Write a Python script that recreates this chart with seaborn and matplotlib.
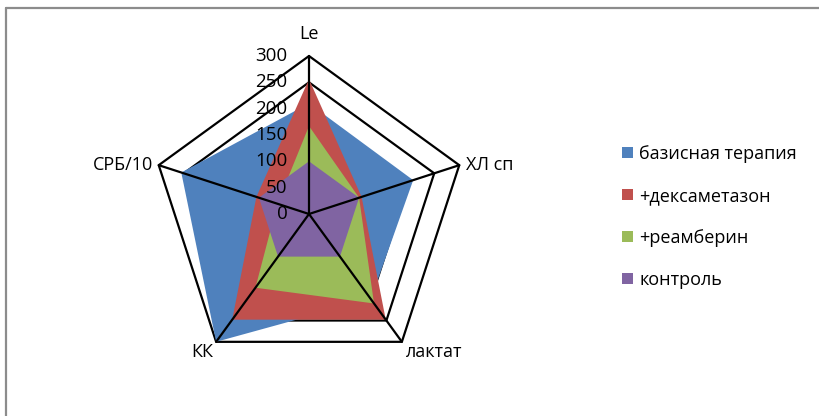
import numpy as np
import matplotlib
matplotlib.use("Agg")
import matplotlib.pyplot as plt
import matplotlib.transforms as mtransforms
from matplotlib.patches import Patch
import seaborn as sns

categories = ["Le", "ХЛ сп", "лактат", "КК", "СРБ/10"]
series_names = ["базисная терапия", "+дексаметазон", "+реамберин", "контроль"]
basic = [210, 208, 200, 300, 255]
dexa = [256, 105, 248, 248, 105]
ream = [167, 100, 210, 173, 63]
control = [100, 100, 100, 100, 100]
r_ticks = [0, 50, 100, 150, 200, 250, 300]

colors = ["#4F81BD", "#C0504D", "#9BBB59", "#8064A2"]

sns.set_style("white")
plt.rcParams["font.family"] = ["Open Sans", "DejaVu Sans"]
plt.rcParams["text.color"] = "black"

W, H = 820, 416
fig = plt.figure(figsize=(W / 100, H / 100), dpi=100)

cx, cy, R = 309, 214, 158
ax = fig.add_axes([(cx - R) / W, (H - cy - R) / H, 2 * R / W, 2 * R / H], projection="polar")
ax.set_theta_offset(np.pi / 2)
ax.set_theta_direction(-1)
ax.set_ylim(0, 300)
ax.grid(False)
ax.spines["polar"].set_visible(False)
ax.set_xticks([])
ax.set_yticks([])
ax.patch.set_alpha(0)

n = len(categories)
theta = np.arange(n) * 2 * np.pi / n
theta_c = np.append(theta, theta[0])

# gridline pentagons (beneath fills)
for rv in r_ticks[1:]:
    ax.plot(theta_c, [rv] * (n + 1), color="black", lw=1.6, zorder=1, clip_on=False)

df_series = [basic, dexa, ream, control]
for vals, col in zip(df_series, colors):
    v = np.append(vals, vals[0])
    ax.fill(theta_c, v, color=col, lw=0, zorder=2)

# spokes on top
for t in theta:
    ax.plot([t, t], [0, 300], color="black", lw=1.6, zorder=4, clip_on=False)

# radial tick labels left of the Le axis
off = mtransforms.offset_copy(ax.transData, fig=fig, x=-15.5, y=0, units="points")
for rv in r_ticks:
    ax.text(0, rv, str(rv), transform=off, ha="right", va="center", fontsize=13.5,
            color="black", zorder=5)

# category labels (pixel offsets)
label_cfg = [
    (0, 22, "center", "center"),
    (7, 0, "left", "center"),
    (4, -10, "left", "center"),
    (-3, -10, "right", "center"),
    (-6, 0, "right", "center"),
]
for t, lab, (dx, dy, ha, va) in zip(theta, categories, label_cfg):
    tr = mtransforms.offset_copy(ax.transData, fig=fig, x=dx * 0.72, y=dy * 0.72, units="points")
    ax.text(t, 300, lab, transform=tr, ha=ha, va=va, fontsize=13, color="black")

handles = [Patch(facecolor=c, edgecolor="none") for c in colors]
leg = fig.legend(handles, series_names, loc="upper left", bbox_to_anchor=(622 / W, 1 - 145 / H),
                 frameon=False, fontsize=13, handlelength=0.6, handleheight=0.6,
                 handletextpad=0.35, labelspacing=1.33, borderaxespad=0, borderpad=0)
for txt in leg.get_texts():
    txt.set_color("black")

# chart-area border (left and top visible)
fig.add_artist(plt.Line2D([6.5 / W, 6.5 / W], [0, 1 - 7.5 / H], color="#8c8c8c", lw=1.6, transform=fig.transFigure))
fig.add_artist(plt.Line2D([6.5 / W, 1], [1 - 7.5 / H, 1 - 7.5 / H], color="#8c8c8c", lw=1.6, transform=fig.transFigure))

fig.savefig("out.png", dpi=100, facecolor="white")
